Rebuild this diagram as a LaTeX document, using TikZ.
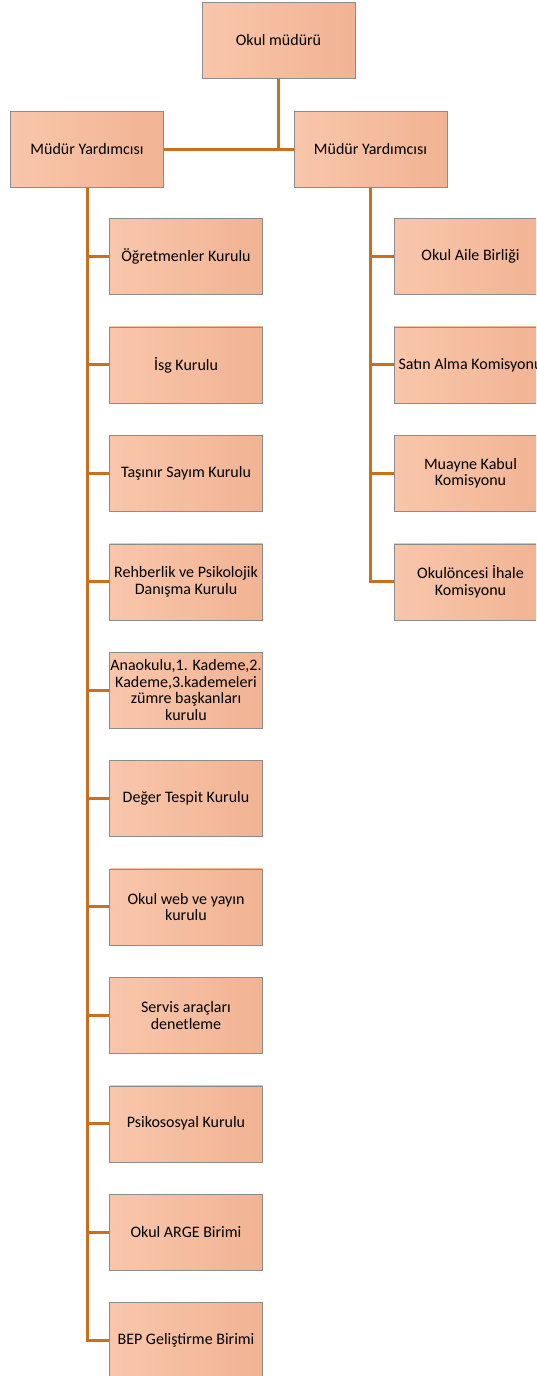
\documentclass[tikz,border=0pt]{standalone}
\usepackage{fontspec}
\setmainfont{Carlito}
\usetikzlibrary{positioning}
\definecolor{kutuacik}{HTML}{F9C6AB}
\definecolor{kutukoyu}{HTML}{F1B393}
\definecolor{kenar}{HTML}{8C8C8C}
\definecolor{hat}{HTML}{C96F1E}

\begin{document}
\begin{tikzpicture}[x=1pt,y=-1pt,node distance=32pt]
  \tikzstyle{box}=[draw=kenar,left color=kutuacik,right color=kutukoyu,minimum width=153pt,minimum height=76pt,align=center,inner sep=2pt,font=\fontsize{16}{16.5}\selectfont]
  \tikzstyle{link}=[draw=hat,line width=3pt]
  \useasboundingbox (0,0) rectangle (536,1376);
  \clip (0,0) rectangle (536,1376);
  \node[box] (mudur) at (278.5,40.5) {Okul müdürü};
  \node[box] (yrd1) at (87,149.5) {Müdür Yardımcısı};
  \node[box] (yrd2) at (370.5,149.5) {Müdür Yardımcısı};
  % sol kol
  \node[box] (ogr) at (186,256.5) {Öğretmenler Kurulu};
  \node[box,below=of ogr] (isg) {İsg Kurulu};
  \node[box,below=of isg] (tasinir) {Taşınır Sayım Kurulu};
  \node[box,below=of tasinir] (rehber) {Rehberlik ve Psikolojik\\Danışma Kurulu};
  \node[box,inner xsep=0pt,below=of rehber] (zumre) {Anaokulu,1. Kademe,2.\\Kademe,3.kademeleri\\zümre başkanları\\kurulu};
  \node[box,below=of zumre] (deger) {Değer Tespit Kurulu};
  \node[box,below=of deger] (web) {Okul web ve yayın\\kurulu};
  \node[box,below=of web] (servis) {Servis araçları\\denetleme};
  \node[box,below=of servis] (psiko) {Psikososyal Kurulu};
  \node[box,below=of psiko] (arge) {Okul ARGE Birimi};
  \node[box,below=of arge] (bep) {BEP Geliştirme Birimi};
  % sag kol
  \node[box] (aile) at (470.5,256.5) {Okul Aile Birliği};
  \node[box,below=of aile] (satin) {Satın Alma Komisyonu};
  \node[box,below=of satin] (muayne) {Muayne Kabul\\Komisyonu};
  \node[box,below=of muayne] (ihale) {Okulöncesi İhale\\Komisyonu};
  \draw[link] (yrd1) -- (yrd2);
  \draw[link] (mudur) -- (mudur |- yrd1);
  \foreach \k in {ogr,isg,tasinir,rehber,zumre,deger,web,servis,psiko,arge,bep}
    \draw[link] (yrd1.south) |- (\k.west);
  \foreach \k in {aile,satin,muayne,ihale}
    \draw[link] (yrd2.south) |- (\k.west);
\end{tikzpicture}
\end{document}
